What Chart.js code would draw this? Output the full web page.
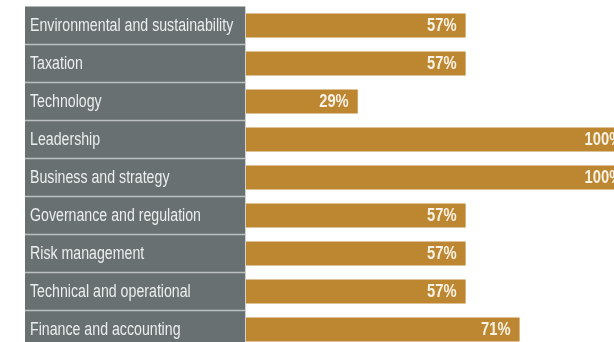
<!DOCTYPE html>
<html>
<head>
<meta charset="utf-8">
<script src="https://cdn.jsdelivr.net/npm/chart.js@4/dist/chart.umd.min.js"></script>
<style>
  html, body { margin: 0; padding: 0; background: #fff; overflow: hidden; }
  #wrap { width: 614px; height: 342px; overflow: hidden; }
</style>
</head>
<body>
<div id="wrap"><canvas id="myChart" width="614" height="350"></canvas></div>
<script>
const categories = ['Environmental and sustainability', 'Taxation', 'Technology', 'Leadership',
  'Business and strategy', 'Governance and regulation', 'Risk management',
  'Technical and operational', 'Finance and accounting'];
const shares = [57, 57, 29, 100, 100, 57, 57, 57, 71];

const barColor = '#bd8631';
const panelColor = '#687072';
const lineColor = '#bcc0c1';
const fontFam = "'Liberation Sans', Arial, sans-serif";

// condensed look: draw text squeezed horizontally
function narrowText(c, txt, x, y, sx) {
  c.save();
  c.translate(x, y);
  c.scale(sx, 1);
  c.fillText(txt, 0, 0);
  c.restore();
}

// grey box with the category names, thin lines between rows
const labelPanel = {
  id: 'labelPanel',
  beforeDraw(chart) {
    const y = chart.scales.y, c = chart.ctx;
    const left = y.left - 5, right = y.right - 1;
    const top = chart.chartArea.top, bottom = chart.chartArea.bottom;
    c.save();
    c.fillStyle = panelColor;
    c.fillRect(left, top, right - left, bottom - top);
    c.strokeStyle = lineColor;
    c.lineWidth = 1.5;
    for (let i = 0; i < categories.length - 1; i++) {
      const yy = (y.getPixelForValue(i) + y.getPixelForValue(i + 1)) / 2;
      c.beginPath(); c.moveTo(left, yy); c.lineTo(right, yy); c.stroke();
    }
    c.strokeStyle = '#cfd2d3';
    c.lineWidth = 1;
    c.beginPath(); c.moveTo(right + 0.5, top); c.lineTo(right + 0.5, bottom); c.stroke();

    c.fillStyle = '#eceeee';
    c.font = '17.5px ' + fontFam;
    c.textAlign = 'left';
    c.textBaseline = 'middle';
    categories.forEach((name, i) => {
      narrowText(c, name, y.left, y.getPixelForValue(i) + 1, 0.81);
    });
    c.restore();
  }
};

// percent text inside the bar end
const barText = {
  id: 'barText',
  afterDatasetsDraw(chart) {
    const c = chart.ctx;
    const meta = chart.getDatasetMeta(0);
    c.save();
    c.fillStyle = '#f7f2e6';
    c.font = 'bold 18px ' + fontFam;
    c.textAlign = 'right';
    c.textBaseline = 'middle';
    meta.data.forEach((bar, i) => {
      narrowText(c, shares[i] + '%', bar.x - 9, bar.y + 1, 0.82);
    });
    c.restore();
  }
};

new Chart(document.getElementById('myChart'), {
  type: 'bar',
  data: {
    labels: categories,
    datasets: [{ data: shares, backgroundColor: barColor, borderWidth: 0,
      barPercentage: 0.63, categoryPercentage: 1 }]
  },
  options: {
    indexAxis: 'y',
    responsive: false,
    devicePixelRatio: 1,
    animation: false,
    layout: { padding: { left: 30, right: 0, top: 6.5, bottom: 1.5 } },
    plugins: { legend: { display: false }, tooltip: { enabled: false } },
    scales: {
      x: { display: false, min: 0, max: 95.5 },
      y: {
        offset: true,
        grid: { display: false },
        border: { display: false },
        ticks: { display: false },
        afterFit(scale) {
          scale.width = 216;
          scale.paddingTop = 0;
          scale.paddingBottom = 0;
        }
      }
    }
  },
  plugins: [labelPanel, barText]
});
</script>
</body>
</html>
